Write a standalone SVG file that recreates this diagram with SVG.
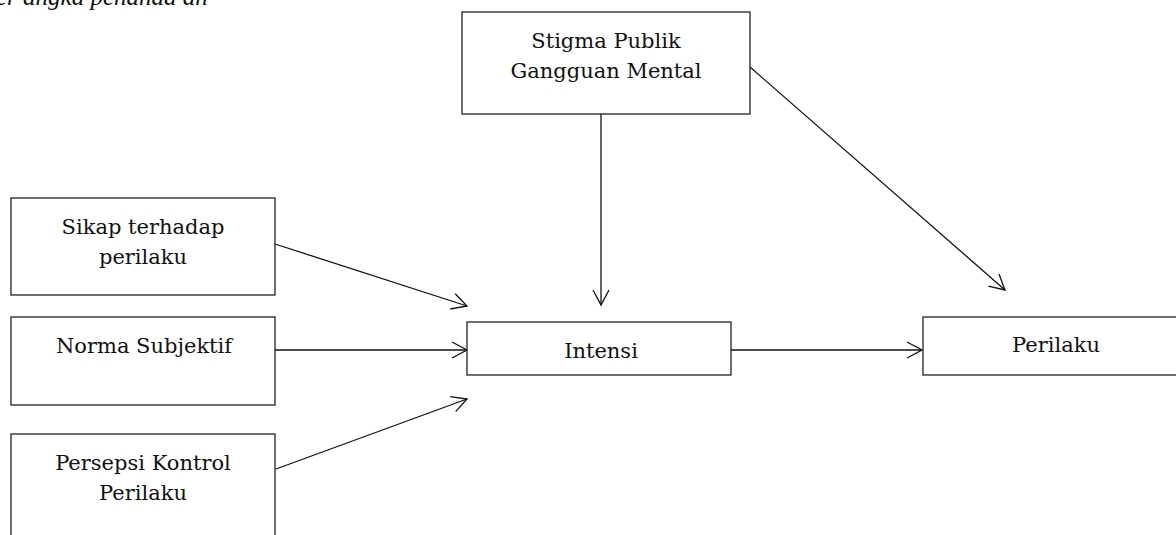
<svg xmlns="http://www.w3.org/2000/svg" width="1176" height="535" viewBox="0 0 1176 535">
<style>
.box{fill:#fff;stroke:#222;stroke-width:1.3}
.lbl{font-family:"DejaVu Serif","Liberation Serif",serif;font-size:21px;fill:#111;text-anchor:middle}
.cap{font-family:"Liberation Serif","DejaVu Serif",serif;font-size:25px;font-style:italic;fill:#111}
.edge{stroke:#111;stroke-width:1.3;fill:none;marker-end:url(#arr)}
</style>
<defs>
<marker id="arr" viewBox="0 0 20 20" refX="18" refY="10" markerWidth="20" markerHeight="20" markerUnits="userSpaceOnUse" orient="auto">
<path d="M3,2 L18,10 L3,18" fill="none" stroke="#111" stroke-width="1.3"/>
</marker>
</defs>
<rect width="1176" height="535" fill="#fff"/>
<text class="cap" x="-4" y="5">er angka penanda an</text>
<g id="connectors">
<line class="edge" x1="601" y1="114" x2="601" y2="305"/>
<line class="edge" x1="750" y1="67" x2="1005" y2="290"/>
<line class="edge" x1="275" y1="244" x2="467" y2="306"/>
<line class="edge" x1="275" y1="350" x2="467" y2="350"/>
<line class="edge" x1="276" y1="469" x2="467" y2="399"/>
<line class="edge" x1="731" y1="350" x2="922" y2="350"/>
</g>
<g id="stigma"><rect class="box" x="462" y="12" width="288" height="102"/><text class="lbl" x="606" y="48">Stigma Publik</text><text class="lbl" x="606" y="78">Gangguan Mental</text></g>
<g id="sikap"><rect class="box" x="11" y="198" width="264" height="97"/><text class="lbl" x="143" y="234">Sikap terhadap</text><text class="lbl" x="143" y="264">perilaku</text></g>
<g id="norma"><rect class="box" x="11" y="317" width="264" height="88"/><text class="lbl" x="144" y="353">Norma Subjektif</text></g>
<g id="persepsi"><rect class="box" x="11" y="434" width="264" height="120"/><text class="lbl" x="143" y="470">Persepsi Kontrol</text><text class="lbl" x="143" y="500">Perilaku</text></g>
<g id="intensi"><rect class="box" x="467" y="322" width="264" height="53"/><text class="lbl" x="601" y="358">Intensi</text></g>
<g id="perilaku"><rect class="box" x="923" y="317" width="264" height="58"/><text class="lbl" x="1056" y="352">Perilaku</text></g>
</svg>
